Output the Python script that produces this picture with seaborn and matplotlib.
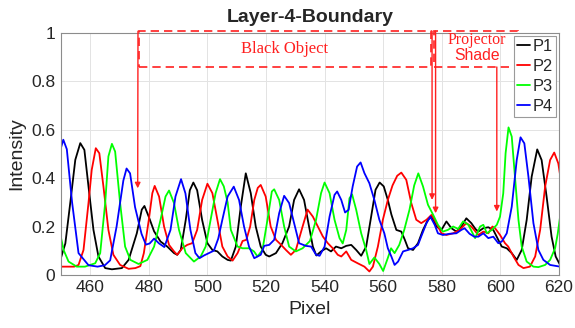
import numpy as np
import pandas as pd
import seaborn as sns
import matplotlib.pyplot as plt
from matplotlib.patches import Rectangle

# values
p1_x = [449.8, 451.5, 453.2, 454.9, 456.6, 458.0, 459.4, 461.1, 462.8, 465.1, 467.4, 470.8, 473.1, 475.9,
        477.6, 478.5, 480.0, 481.8, 484.0, 486.3, 488.6, 489.7, 490.9, 492.6, 494.0, 495.2, 496.5, 498.2,
        500.0, 501.7, 503.4, 505.1, 506.9, 508.0, 509.7, 511.4, 513.1, 514.8, 516.5, 518.2, 519.9, 521.1,
        523.4, 525.6, 527.9, 529.6, 531.3, 533.0, 534.7, 536.0, 537.2, 538.8, 540.5, 542.2, 543.9, 545.7,
        547.4, 549.1, 550.8, 552.5, 554.2, 555.9, 557.4, 558.8, 560.2, 561.6, 562.8, 564.5, 566.2, 567.4,
        568.5, 570.2, 571.9, 573.6, 575.3, 576.5, 578.2, 579.9, 581.6, 583.3, 585.0, 586.7, 588.4, 590.1,
        591.5, 592.5, 594.2, 595.9, 597.6, 599.3, 600.5, 602.2, 603.9, 605.6, 607.3, 609.0, 610.7, 612.6,
        614.1, 615.8, 617.5, 618.9, 620.4]
p1_y = [0.062, 0.13, 0.30, 0.476, 0.545, 0.517, 0.366, 0.186, 0.076, 0.028, 0.023, 0.028, 0.062, 0.172,
        0.27, 0.285, 0.24, 0.18, 0.138, 0.117, 0.09, 0.083, 0.103, 0.227, 0.35, 0.382, 0.35, 0.227,
        0.131, 0.103, 0.097, 0.076, 0.062, 0.059, 0.117, 0.283, 0.42, 0.338, 0.2, 0.117, 0.083, 0.076,
        0.09, 0.131, 0.2, 0.31, 0.354, 0.31, 0.2, 0.117, 0.08, 0.097, 0.11, 0.097, 0.117, 0.11,
        0.12, 0.124, 0.103, 0.079, 0.117, 0.241, 0.352, 0.382, 0.366, 0.31, 0.25, 0.186, 0.179, 0.145,
        0.11, 0.103, 0.131, 0.186, 0.228, 0.241, 0.2, 0.186, 0.221, 0.193, 0.179, 0.2, 0.234, 0.214,
        0.19, 0.179, 0.193, 0.197, 0.186, 0.145, 0.117, 0.11, 0.09, 0.062, 0.103, 0.227, 0.406, 0.519,
        0.475, 0.324, 0.158, 0.076, 0.041]

p2_x = [449.8, 452.0, 454.5, 456.0, 457.7, 459.4, 460.5, 461.9, 463.1, 464.5, 466.2, 467.9, 470.2, 473.1,
        475.4, 477.1, 478.3, 480.0, 481.2, 482.0, 483.5, 485.2, 486.9, 488.6, 489.7, 491.4, 493.1, 494.8,
        496.5, 498.2, 500.0, 501.7, 503.4, 505.1, 506.9, 508.6, 510.3, 512.0, 513.3, 514.6, 516.0, 517.2,
        518.2, 519.9, 521.6, 523.4, 525.1, 526.8, 528.5, 530.2, 532.5, 534.2, 536.0, 537.7, 539.4, 541.1,
        542.8, 544.5, 545.7, 547.4, 549.1, 551.3, 553.6, 555.3, 556.5, 558.2, 559.9, 561.6, 563.2, 564.8,
        566.2, 567.9, 569.6, 571.3, 573.0, 574.8, 576.5, 578.2, 579.9, 581.6, 583.9, 586.1, 588.4, 590.1,
        592.5, 594.2, 595.9, 597.3, 598.2, 599.9, 601.6, 602.7, 604.5, 606.2, 607.9, 610.1, 611.9, 613.6,
        615.3, 617.0, 618.4, 619.8, 620.7]
p2_y = [0.034, 0.034, 0.034, 0.041, 0.103, 0.297, 0.434, 0.524, 0.503, 0.366, 0.186, 0.083, 0.041, 0.025,
        0.028, 0.036, 0.09, 0.228, 0.338, 0.368, 0.324, 0.2, 0.124, 0.097, 0.083, 0.11, 0.124, 0.131,
        0.186, 0.31, 0.377, 0.338, 0.228, 0.117, 0.076, 0.059, 0.09, 0.14, 0.145, 0.2, 0.31, 0.36,
        0.372, 0.324, 0.2, 0.145, 0.125, 0.103, 0.083, 0.103, 0.2, 0.27, 0.241, 0.2, 0.159, 0.131,
        0.11, 0.083, 0.076, 0.097, 0.062, 0.048, 0.034, 0.014, 0.034, 0.117, 0.228, 0.31, 0.37, 0.41,
        0.423, 0.393, 0.297, 0.228, 0.214, 0.228, 0.248, 0.214, 0.172, 0.165, 0.172, 0.186, 0.214, 0.2,
        0.165, 0.179, 0.172, 0.2, 0.193, 0.165, 0.131, 0.117, 0.076, 0.041, 0.028, 0.034, 0.076, 0.186,
        0.365, 0.475, 0.506, 0.461, 0.39]

p3_x = [449.8, 450.9, 452.6, 455.4, 458.2, 461.7, 463.4, 465.1, 466.2, 467.4, 468.5, 470.2, 471.9, 473.7,
        476.5, 479.5, 481.8, 484.0, 485.7, 486.9, 488.6, 490.3, 492.6, 495.4, 497.7, 499.4, 501.1, 502.8,
        504.3, 505.6, 506.9, 508.0, 510.3, 512.0, 514.2, 515.9, 517.1, 518.8, 520.5, 522.0, 522.8, 524.5,
        526.2, 527.9, 530.2, 532.5, 535.0, 537.1, 538.8, 540.0, 541.7, 543.4, 545.1, 546.2, 547.4, 548.5,
        549.4, 550.8, 552.5, 554.2, 555.3, 557.0, 558.7, 560.0, 561.6, 562.7, 563.9, 565.5, 567.2, 569.0,
        570.6, 572.0, 573.6, 575.3, 577.0, 578.7, 580.4, 582.1, 583.9, 585.6, 587.3, 589.1, 591.4, 593.1,
        594.2, 595.4, 597.1, 598.8, 599.9, 601.0, 601.8, 602.8, 603.9, 605.0, 606.2, 607.3, 609.0, 611.3,
        613.0, 615.3, 617.0, 618.7, 619.6, 620.4]
p3_y = [0.166, 0.103, 0.055, 0.034, 0.034, 0.048, 0.09, 0.297, 0.49, 0.542, 0.51, 0.297, 0.117, 0.062,
        0.045, 0.062, 0.117, 0.228, 0.324, 0.349, 0.297, 0.186, 0.09, 0.055, 0.076, 0.117, 0.228, 0.338,
        0.396, 0.366, 0.3, 0.186, 0.117, 0.11, 0.11, 0.097, 0.076, 0.103, 0.228, 0.345, 0.354, 0.31,
        0.2, 0.117, 0.097, 0.11, 0.14, 0.228, 0.338, 0.382, 0.338, 0.228, 0.152, 0.13, 0.186, 0.317,
        0.333, 0.269, 0.172, 0.103, 0.045, 0.072, 0.045, 0.016, 0.07, 0.11, 0.09, 0.124, 0.186, 0.27,
        0.37, 0.42, 0.366, 0.29, 0.25, 0.207, 0.179, 0.186, 0.2, 0.19, 0.221, 0.207, 0.152, 0.2,
        0.207, 0.172, 0.186, 0.207, 0.241, 0.337, 0.503, 0.61, 0.572, 0.406, 0.227, 0.117, 0.055, 0.034,
        0.032, 0.041, 0.062, 0.11, 0.17, 0.24]

p4_x = [449.8, 450.8, 452.0, 453.8, 456.0, 459.4, 462.5, 465.0, 466.8, 469.0, 471.3, 472.4, 473.6, 475.3,
        477.5, 479.0, 480.3, 481.8, 483.5, 485.3, 487.4, 489.1, 491.0, 492.5, 494.2, 495.9, 497.3, 498.8,
        500.5, 502.2, 503.7, 505.1, 506.9, 509.0, 510.8, 512.5, 514.2, 516.0, 518.2, 519.4, 521.1, 522.8,
        524.5, 526.2, 527.9, 529.6, 531.3, 533.6, 535.4, 537.1, 538.3, 540.0, 541.7, 543.4, 544.3, 545.7,
        547.0, 548.2, 549.6, 551.1, 552.3, 553.6, 555.3, 557.0, 558.7, 560.4, 561.6, 562.8, 563.9, 565.1,
        566.8, 568.5, 570.2, 571.9, 573.0, 574.8, 576.1, 577.6, 578.7, 580.4, 582.7, 585.0, 586.7, 587.8,
        589.5, 591.1, 592.5, 594.2, 595.9, 597.6, 599.3, 600.5, 602.2, 603.9, 605.6, 606.9, 608.2, 609.6,
        611.3, 613.0, 614.7, 617.0, 620.4]
p4_y = [0.517, 0.559, 0.52, 0.30, 0.09, 0.04, 0.034, 0.04, 0.06, 0.20, 0.39, 0.44, 0.42, 0.28,
        0.17, 0.125, 0.13, 0.15, 0.13, 0.115, 0.186, 0.324, 0.396, 0.337, 0.186, 0.09, 0.069, 0.08,
        0.09, 0.10, 0.15, 0.228, 0.324, 0.365, 0.31, 0.2, 0.117, 0.069, 0.083, 0.12, 0.124, 0.145,
        0.255, 0.327, 0.297, 0.214, 0.131, 0.12, 0.117, 0.083, 0.079, 0.117, 0.241, 0.331, 0.345, 0.31,
        0.258, 0.269, 0.366, 0.448, 0.465, 0.421, 0.379, 0.31, 0.228, 0.172, 0.11, 0.076, 0.041, 0.055,
        0.097, 0.103, 0.11, 0.124, 0.159, 0.214, 0.241, 0.207, 0.172, 0.165, 0.17, 0.172, 0.186, 0.193,
        0.17, 0.158, 0.158, 0.172, 0.152, 0.158, 0.131, 0.138, 0.172, 0.282, 0.475, 0.569, 0.544, 0.406,
        0.214, 0.103, 0.062, 0.041, 0.034]

names = ['P1', 'P2', 'P3', 'P4']
colors = {'P1': 'black', 'P2': '#ff0000', 'P3': '#00ff00', 'P4': '#0000ff'}
x_ticks = [460, 480, 500, 520, 540, 560, 580, 600, 620]
y_ticks = [0, 0.2, 0.4, 0.6, 0.8, 1]
y_ticklabels = ['0', '0.2', '0.4', '0.6', '0.8', '1']

frames = []
for name, xs, ys in zip(names, [p1_x, p2_x, p3_x, p4_x], [p1_y, p2_y, p3_y, p4_y]):
    frames.append(pd.DataFrame({'Pixel': xs, 'Intensity': ys, 'curve': name}))
df = pd.concat(frames, ignore_index=True)

sns.set_style('whitegrid')
plt.rcParams['font.family'] = ['Liberation Sans', 'DejaVu Sans']

fig = plt.figure(figsize=(5.75, 3.28), dpi=100)
ax = fig.add_axes([0.106, 0.162, 0.866, 0.737])

sns.lineplot(data=df, x='Pixel', y='Intensity', hue='curve', palette=colors,
             estimator=None, sort=False, lw=1.3, ax=ax)

ax.set_xlim(450, 620)
ax.set_ylim(0, 1)
ax.set_xticks(x_ticks)
ax.set_yticks(y_ticks)
ax.set_yticklabels(y_ticklabels)
ax.tick_params(labelsize=12.5, colors='#262626', direction='in', length=3, pad=4)
ax.grid(True, color='#e3e3e3', lw=0.7)
for s in ax.spines.values():
    s.set_visible(True)
    s.set_color('#8c8c8c')
    s.set_linewidth(0.8)
ax.set_xlabel('Pixel', fontsize=14, color='#262626')
ax.set_ylabel('Intensity', fontsize=14, color='#262626')
ax.set_title('Layer-4-Boundary', fontsize=14, fontweight='bold', pad=8)

# annotations
red = '#ff2020'
ax.add_patch(Rectangle((476.8, 0.86), 99.6, 0.148, fill=False, ec=red, ls=(0, (5, 3)),
                       lw=1.2, clip_on=False, zorder=5))
ax.add_patch(Rectangle((577.3, 0.86), 28.6, 0.148, fill=False, ec=red, ls=(0, (5, 3)),
                       lw=1.2, clip_on=False, zorder=5))
ax.text(526.5, 0.934, 'Black Object', color=red, fontsize=12, ha='center', va='center',
        family=['Liberation Serif', 'DejaVu Serif'])
ax.text(592, 0.972, 'Projector', color=red, fontsize=11.5, ha='center', va='center',
        family=['Liberation Serif', 'DejaVu Serif'])
ax.text(592, 0.909, 'Shade', color=red, fontsize=11.3, ha='center', va='center')

arrow = dict(arrowstyle='-|>', color=red, lw=1.0, mutation_scale=8, shrinkA=0, shrinkB=0)
ax.annotate('', xy=(476.2, 0.358), xytext=(476.3, 1.008), arrowprops=arrow)
ax.annotate('', xy=(576.7, 0.31), xytext=(576.7, 1.008), arrowprops=arrow)
ax.annotate('', xy=(577.9, 0.255), xytext=(577.9, 1.008), arrowprops=arrow)
ax.annotate('', xy=(598.8, 0.262), xytext=(598.8, 0.86), arrowprops=arrow)

leg = ax.legend(loc='upper right', bbox_to_anchor=(1.0, 1.0), borderaxespad=0.15, fontsize=11.8,
                handlelength=0.75, handletextpad=0.2, borderpad=0.2, labelspacing=0.3,
                fancybox=False, framealpha=1, edgecolor='#9a9a9a', title=None)
leg.get_frame().set_linewidth(0.8)
leg.set_zorder(10)

fig.savefig('out.png', dpi=100)
